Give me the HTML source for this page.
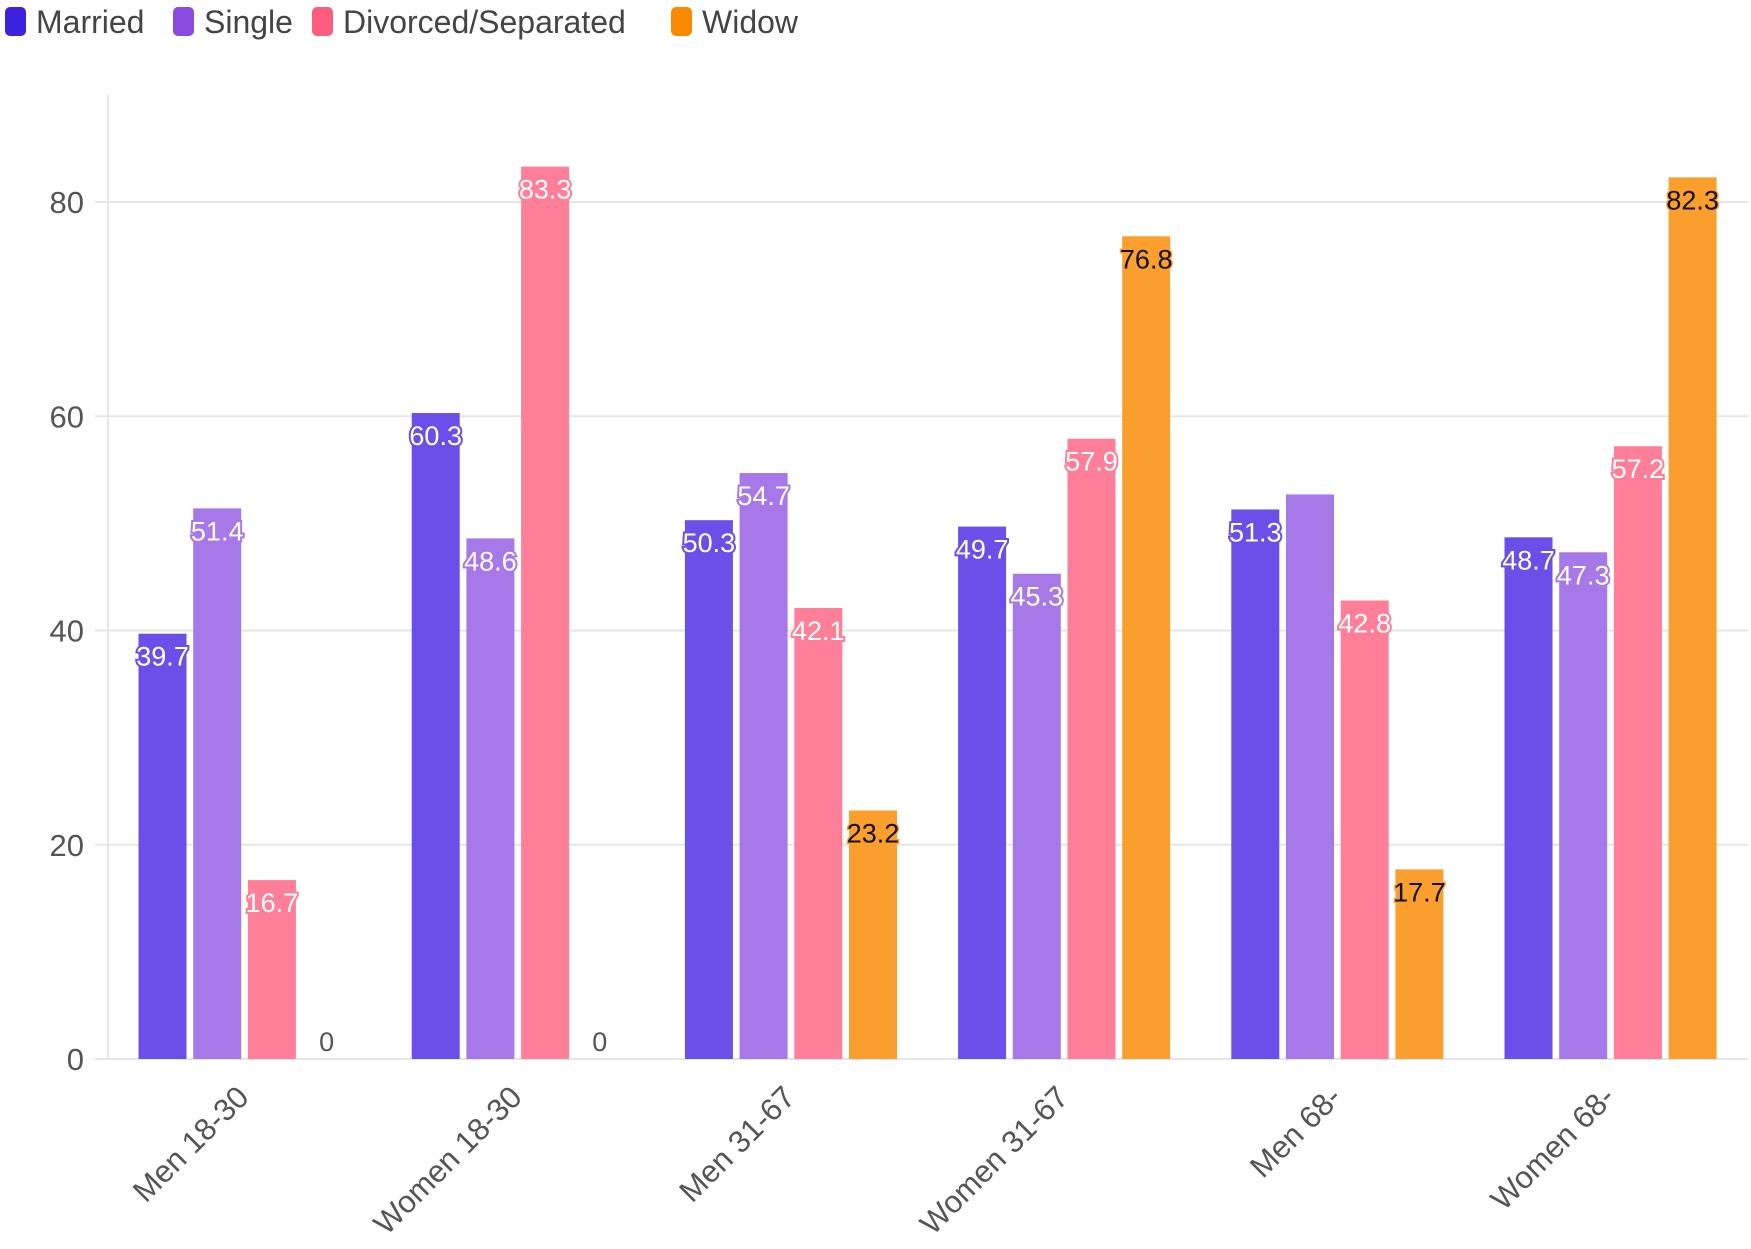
<!DOCTYPE html>
<html><head><meta charset="utf-8"><style>
html,body{margin:0;padding:0;background:#fff;width:1751px;height:1249px;overflow:hidden}
svg{display:block;font-family:"Liberation Sans",sans-serif}
</style></head><body>
<svg id="chart" width="1751" height="1249"></svg>
<script>
const categories=["Men 18-30","Women 18-30","Men 31-67","Women 31-67","Men 68-","Women 68-"];
const seriesNames=["Married","Single","Divorced/Separated","Widow"];
const married=[39.7,60.3,50.3,49.7,51.3,48.7];
const single=[51.4,48.6,54.7,45.3,52.7,47.3];
const divorced=[16.7,83.3,42.1,57.9,42.8,57.2];
const widow=[0,0,23.2,76.8,17.7,82.3];
const showLabel=[[1,1,1,1,1,1],[1,1,1,1,0,1],[1,1,1,1,1,1],[1,1,1,1,1,1]];
const yTicks=[0,20,40,60,80];
const NS="http://www.w3.org/2000/svg";
const svg=document.getElementById('chart');
const series=[married,single,divorced,widow];
const barCol=["#6a4fe8","#a678e8","#ff7f98","#fa9e2e"];
const legCol=["#3d22e0","#8a4ce0","#ff5c7f","#f98a00"];
const y0=1059,yPer=(1059-202)/80;
const y=v=>y0-v*yPer;
const gx=i=>138.5+i*273.2;
const bx=(i,s)=>gx(i)+s*54.7;
const bw=48;
function el(t,a){const e=document.createElementNS(NS,t);for(const k in a)e.setAttribute(k,a[k]);svg.appendChild(e);return e;}
yTicks.forEach(t=>{
 const g=el('line',{x1:95,x2:1748,y1:y(t),y2:y(t),stroke:'#e6e6e6','stroke-width':2});
 
 
 const tx=el('text',{x:84,y:y(t)+11,'text-anchor':'end','font-size':31,fill:'#555'});
 tx.textContent=t;
 
 
});
const ax=el('line',{x1:108,x2:108,y1:95,y2:y0,stroke:'#e6e6e6','stroke-width':2});


series.forEach((arr,s)=>{
 arr.forEach((v,i)=>{
  const r=el('rect',{x:bx(i,s),y:y(v),width:bw,height:y0-y(v),fill:barCol[s]});
  
  
 });
});
series.forEach((arr,s)=>{
 arr.forEach((v,i)=>{
  if(!showLabel[s][i])return;
  const cx=bx(i,s)+bw/2;
  let t;
  if(v===0){
   t=el('text',{x:cx,y:y0-8,'text-anchor':'middle','font-size':27,fill:'#555'});
  }else if(s===3){
   t=el('text',{x:cx,y:y(v)+32,'text-anchor':'middle','font-size':27,fill:'#111',stroke:'#fa9e2e','stroke-width':3,'paint-order':'stroke'});
  }else{
   t=el('text',{x:cx,y:y(v)+32,'text-anchor':'middle','font-size':27,fill:'#fff',stroke:barCol[s],'stroke-width':4,'paint-order':'stroke'});
  }
  t.textContent=v;
  
  
 });
});
categories.forEach((c,i)=>{
 const cx=gx(i)+1.5*54.7+bw/2+6;
 const cy=y0+40;
 const t=el('text',{x:cx,y:cy,'text-anchor':'end','font-size':31,fill:'#555',transform:`rotate(-45 ${cx} ${cy})`});
 t.textContent=c;
 
 
});
const legX=[5,173,312,671];
seriesNames.forEach((n,s)=>{
 const r=el('rect',{x:legX[s],y:7,width:21,height:29,rx:5,fill:legCol[s]});
 
 
 const t=el('text',{x:legX[s]+31,y:33,'font-size':32,fill:'#444'});
 t.textContent=n;
 
 
});
</script>
</body></html>
